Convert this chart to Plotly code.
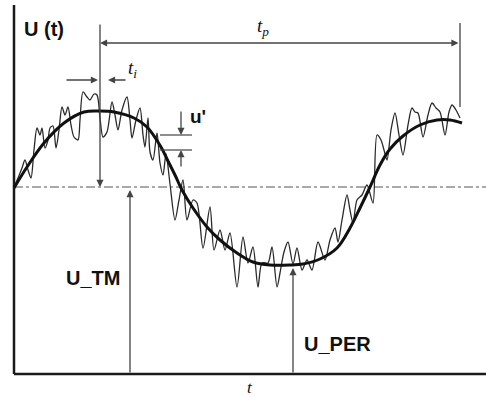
import plotly.graph_objects as go

# ---- data (chart units: t horizontal, U vertical) ----
smooth_t = [0, 13, 30, 50, 70, 86, 100, 120, 133, 147, 153, 161, 168, 179, 193, 206, 223, 239, 256, 276,
            289, 306, 323, 336, 346, 356, 366, 376, 389, 406, 423, 436, 448]
smooth_u = [186, 207, 231, 251, 262, 263, 262, 256, 247, 227, 215, 199, 184, 166, 147, 134, 121, 112, 109, 109,
            110, 115, 126, 146, 166, 187, 209, 225, 238, 249, 254, 254, 251]

noisy_t = [0, 4, 8, 11, 14, 17, 20, 23, 26, 28, 31, 34, 36, 39, 42, 45, 48, 51, 54, 57, 60, 64, 66, 69, 73,
           76, 80, 83, 86, 89, 93, 98, 101, 104, 108, 113, 116, 118, 122, 126, 129, 131, 134, 136, 139, 143,
           146, 149, 152, 156, 161, 165, 169, 173, 179, 183, 189, 196, 200, 206, 211, 216, 223, 229, 234, 239,
           244, 248, 254, 258, 263, 266, 270, 274, 279, 283, 288, 293, 298, 304, 311, 316,
           321, 324, 328, 333, 336, 339, 343, 348, 353, 359, 363, 367, 370, 373, 377, 381, 385, 389, 394, 398,
           401, 404, 409, 414, 418, 422, 426, 431, 435, 438, 442, 446]
noisy_u = [187, 196, 206, 214, 204, 196, 224, 246, 239, 246, 226, 234, 246, 248, 226, 244, 267, 259, 267, 249,
           237, 234, 254, 282, 277, 274, 280, 279, 256, 237, 242, 272, 259, 244, 264, 277, 254, 236, 254, 266,
           239, 227, 256, 222, 214, 241, 211, 199, 220, 190, 154, 174, 194, 154, 174, 171, 126, 167, 124, 144,
           124, 141, 87, 137, 111, 127, 87, 111, 111, 127, 87, 101, 122, 132, 110, 126,
           104, 114, 104, 132, 114, 134, 146, 132, 154, 179, 164, 151, 174, 179, 189, 171, 239, 234, 224, 214,
           244, 261, 239, 219, 249, 266, 262, 261, 237, 259, 271, 266, 262, 239, 262, 269, 264, 256]

U_TM = 187          # mean level (dash-dot line)
U_PER_T = 279       # time of the U_PER marker
U_PER = 106         # value at U_PER marker
T_PEAK = 86         # peak time marker
T_END = 446         # end of period marker
T_MAX = 472
U_TOP = 369
U_TP = 331          # level of t_p dimension line
U_MARK_TOP = 351    # top of vertical markers
U_MARK_END_BOTTOM = 267
TM_T = 116          # time of U_TM arrow
TI_U = 294          # level of t_i arrows
UP_T = 167          # u' arrows
UP_HI = 239
UP_LO = 224
UP_X0, UP_X1 = 146, 178

dark = "#1a1a1a"
gray = "#444444"

fig = go.Figure()

# axes
fig.add_trace(go.Scatter(x=[0, 0], y=[0, U_TOP], mode="lines", line=dict(color=dark, width=2.5)))
fig.add_trace(go.Scatter(x=[0, T_MAX], y=[0, 0], mode="lines", line=dict(color=dark, width=2.5)))
# mean level
fig.add_trace(go.Scatter(x=[0, T_MAX], y=[U_TM, U_TM], mode="lines",
                         line=dict(color="#555555", width=1.2, dash="dashdot")))
# noisy signal
fig.add_trace(go.Scatter(x=noisy_t, y=noisy_u, mode="lines",
                         line=dict(color="#2a2a2a", width=1.3, shape="spline", smoothing=0.8)))
# smooth signal
fig.add_trace(go.Scatter(x=smooth_t, y=smooth_u, mode="lines",
                         line=dict(color="#111111", width=3, shape="spline")))
# end-of-period vertical marker
fig.add_trace(go.Scatter(x=[T_END, T_END], y=[U_MARK_TOP, U_MARK_END_BOTTOM], mode="lines",
                         line=dict(color=gray, width=1.3)))
# u' reference lines
fig.add_trace(go.Scatter(x=[UP_X0, UP_X1], y=[UP_HI, UP_HI], mode="lines", line=dict(color=gray, width=1.2)))
fig.add_trace(go.Scatter(x=[UP_X0, UP_X1], y=[UP_LO, UP_LO], mode="lines", line=dict(color=gray, width=1.2)))


def arrow(x, y, ax, ay, side="end"):
    fig.add_annotation(x=x, y=y, ax=ax, ay=ay, xref="x", yref="y", axref="x", ayref="y",
                       text="", showarrow=True, arrowhead=2, arrowsize=1.1, arrowwidth=1.3,
                       arrowcolor=gray, arrowside=side, standoff=0, startstandoff=0)


# peak vertical marker (down to mean)
arrow(T_PEAK, U_TM, T_PEAK, U_MARK_TOP)
# t_p dimension line
arrow(T_PEAK, U_TP, T_END, U_TP, side="end+start")
# t_i arrows
arrow(T_PEAK - 2, TI_U, 51, TI_U)
arrow(94, TI_U, 113, TI_U)
# u' arrows
arrow(UP_T, UP_HI, UP_T, 264)
arrow(UP_T, UP_LO, UP_T, 206)
# U_TM arrow
arrow(TM_T, U_TM - 3, TM_T, 0)
# U_PER arrow
arrow(U_PER_T, U_PER, U_PER_T, 0)

sans = "Liberation Sans, Arial, sans-serif"
serif = "Liberation Serif, Times New Roman, serif"


def label(x, y, text, size, family, xanchor="center"):
    fig.add_annotation(x=x, y=y, xref="x", yref="y", text=text, showarrow=False,
                       font=dict(size=size, family=family, color="#111111"), xanchor=xanchor, yanchor="middle")


label(8, 345, "<b>U (t)</b>", 20, sans, xanchor="left")
label(249, 347, "<i>t</i><sub><i>p</i></sub>", 19, serif)
label(118, 305, "<i>t</i><sub><i>i</i></sub>", 19, serif)
label(174, 258, "<b>u'</b>", 19, sans, xanchor="left")
label(108, 96, "<b>U_TM</b>", 20, sans, xanchor="right")
label(288, 30, "<b>U_PER</b>", 20, sans, xanchor="left")
label(236, -13, "<i>t</i>", 17, serif)

fig.update_layout(
    width=486, height=397, margin=dict(l=0, r=0, t=0, b=0),
    paper_bgcolor="white", plot_bgcolor="white", showlegend=False,
    xaxis=dict(range=[-14, 472], visible=False, fixedrange=True),
    yaxis=dict(range=[-23, 374], visible=False, fixedrange=True),
)

fig.write_html("out.html", config={"displayModeBar": False},
               post_script="document.body.style.margin='0';document.body.style.overflow='hidden';")
